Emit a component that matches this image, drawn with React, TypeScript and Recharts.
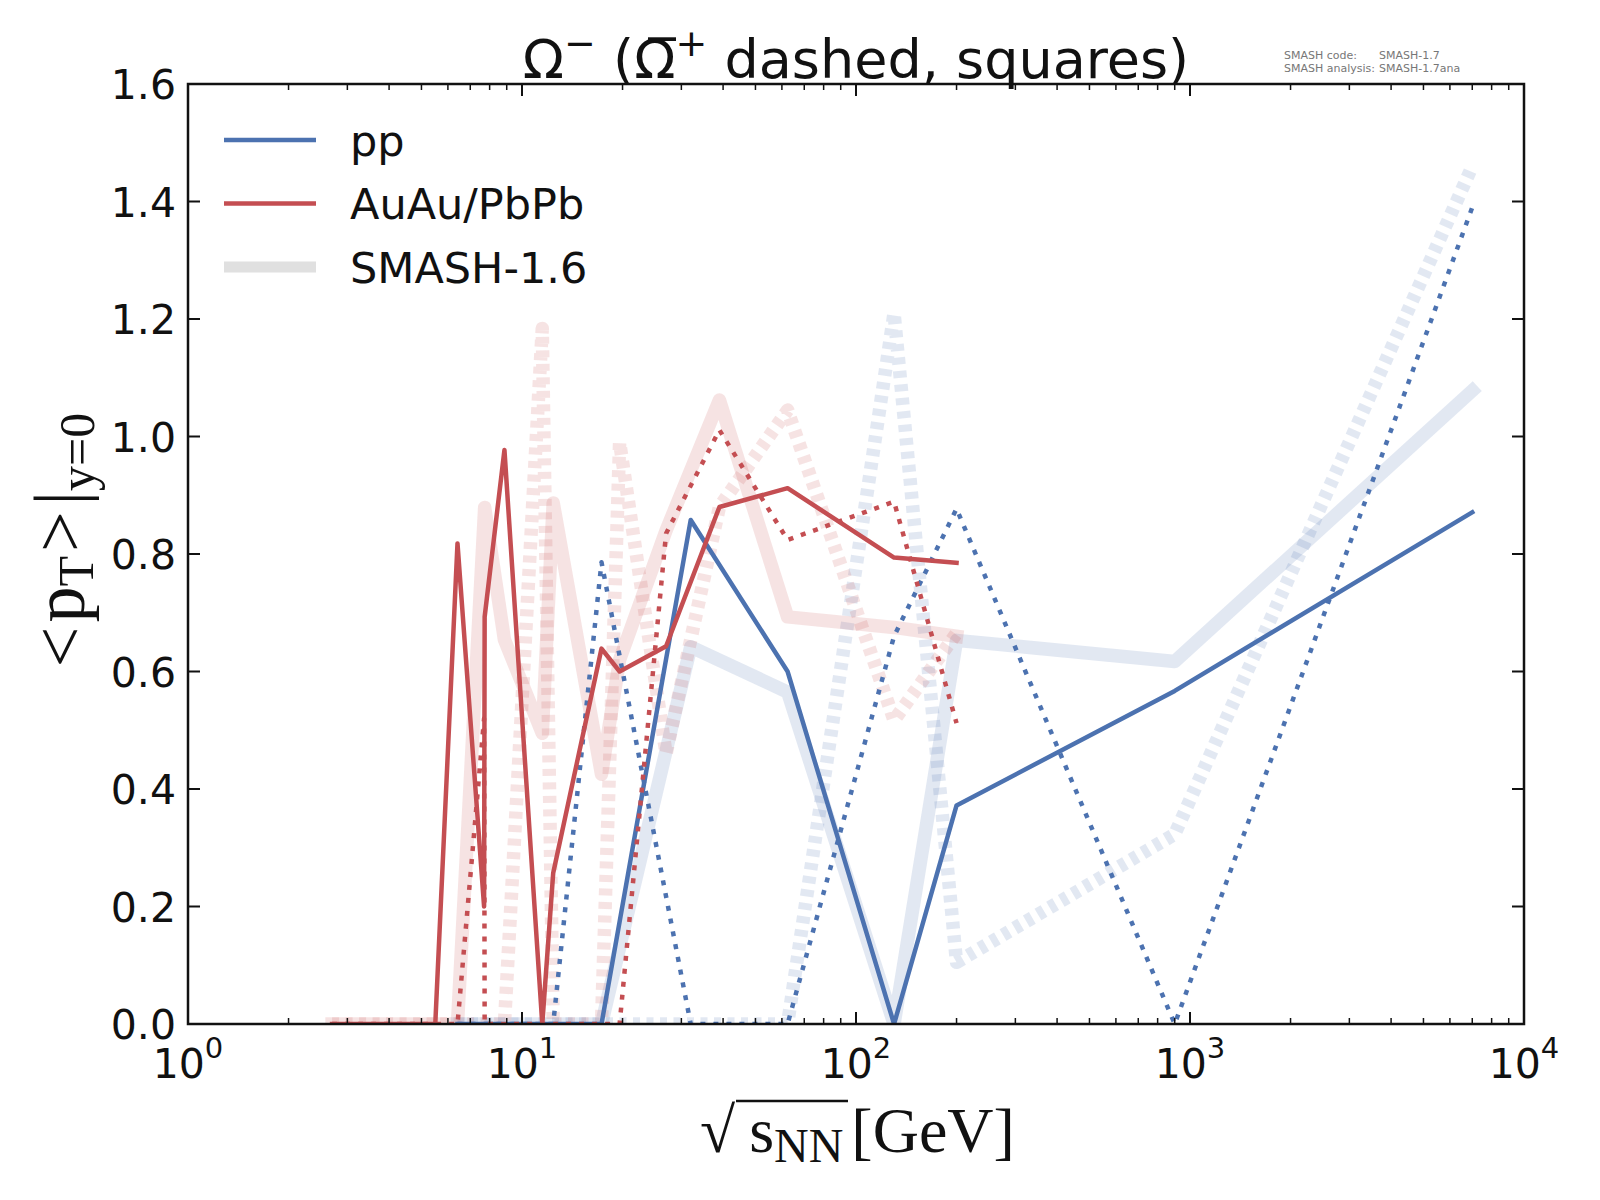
import React from 'react';
import { LineChart, Line, XAxis, YAxis } from 'recharts';

// collision energies (GeV) at which the curves are sampled
const AA_ENERGY = [2.7, 3.32, 3.84, 4.3, 4.86, 5.5, 6.41, 7.7, 7.73, 8.86, 11.5, 12.4, 17.3, 19.6, 27, 39, 62.4, 130, 200];
const PP_ENERGY = [6.41, 7.73, 8.86, 12.4, 17.3, 32, 62.4, 130, 200, 900, 7000];

// <pT> at y=0, current version
const AA_OMEGA = [0, 0, 0, 0, 0, 0, 0.818, 0.2, 0.693, 0.977, 0, 0.257, 0.639, 0.6, 0.643, 0.88, 0.912, 0.794, 0.785];
const AA_ANTI = [0, 0, 0, 0, 0, 0, 0, 0.52, 0, 0, 0, 0, 0, 0, 0.835, 1.011, 0.824, 0.889, 0.512];
const PP_OMEGA = [0, 0, 0, 0, 0, 0.858, 0.6, 0, 0.372, 0.567, 0.871];
const PP_ANTI = [0, 0, 0, 0, 0.786, 0, 0, 0.66, 0.877, 0, 1.39];

// SMASH-1.6 reference curves
const AA_OMEGA_16 = [0, 0, 0, 0, 0, 0, 0, 0.86, 0.879, 0.654, 0.495, 0.887, 0.425, 0.62, 0.84, 1.062, 0.693, 0.675, 0.66];
const AA_ANTI_16 = [0, 0, 0, 0, 0, 0, 0, 0, 0, 0, 1.184, 0, 0, 0.99, 0.46, 0.88, 1.045, 0.517, 0.665];
const PP_OMEGA_16 = [0, 0, 0, 0, 0, 0.642, 0.565, 0, 0.653, 0.617, 1.078];
const PP_ANTI_16 = [0, 0, 0, 0, 0, 0, 0, 1.21, 0.105, 0.323, 1.46];

const X_TICKS = [
  1, 2, 3, 4, 5, 6, 7, 8, 9,
  10, 20, 30, 40, 50, 60, 70, 80, 90,
  100, 200, 300, 400, 500, 600, 700, 800, 900,
  1000, 2000, 3000, 4000, 5000, 6000, 7000, 8000, 9000,
  10000,
];
const Y_TICKS = [0, 0.2, 0.4, 0.6, 0.8, 1.0, 1.2, 1.4, 1.6];

const LEGEND = [
  { label: 'pp', color: '#4C72B0', width: 4.5 },
  { label: 'AuAu/PbPb', color: '#C44E52', width: 4.5 },
  { label: 'SMASH-1.6', color: '#E0E0E0', width: 11 },
];

const BLUE = '#4C72B0';
const RED = '#C44E52';
const PLOT = { left: 188, top: 84, right: 1524, bottom: 1024 };
const SANS = 'DejaVu Sans';
const SERIF = 'Liberation Serif';

const zip = (xs: number[], ys: number[]) => xs.map((x, i) => ({ x, y: ys[i] }));

const isDecade = (v: number) => Math.abs(Math.log10(v) - Math.round(Math.log10(v))) < 1e-9;

const BottomTick = (props: any) => {
  const { x, payload } = props;
  const major = isDecade(payload.value);
  return (
    <g>
      <line x1={x} x2={x} y1={PLOT.bottom} y2={PLOT.bottom - (major ? 12 : 6)} stroke="#111" strokeWidth={major ? 2 : 1.5} />
      {major && (
        <text x={x} y={1078} textAnchor="middle" fontFamily={SANS} fontSize={41} fill="#111">
          10<tspan fontSize={29} dy={-20}>{Math.round(Math.log10(payload.value))}</tspan>
        </text>
      )}
    </g>
  );
};

const TopTick = (props: any) => {
  const { x, payload } = props;
  const major = isDecade(payload.value);
  return (
    <line x1={x} x2={x} y1={PLOT.top} y2={PLOT.top + (major ? 12 : 6)} stroke="#111" strokeWidth={major ? 2 : 1.5} />
  );
};

const LeftTick = (props: any) => {
  const { y, payload } = props;
  return (
    <g>
      <line x1={PLOT.left} x2={PLOT.left + 12} y1={y} y2={y} stroke="#111" strokeWidth={2} />
      <text x={176} y={y + 15} textAnchor="end" fontFamily={SANS} fontSize={41} fill="#111">
        {payload.value.toFixed(1)}
      </text>
    </g>
  );
};

const RightTick = (props: any) => {
  const { y } = props;
  return <line x1={PLOT.right} x2={PLOT.right - 12} y1={y} y2={y} stroke="#111" strokeWidth={2} />;
};

const series = [
  { key: 'pp16', data: zip(PP_ENERGY, PP_OMEGA_16), color: BLUE, light: true, dotted: false },
  { key: 'ppanti16', data: zip(PP_ENERGY, PP_ANTI_16), color: BLUE, light: true, dotted: true },
  { key: 'aa16', data: zip(AA_ENERGY, AA_OMEGA_16), color: RED, light: true, dotted: false },
  { key: 'aaanti16', data: zip(AA_ENERGY, AA_ANTI_16), color: RED, light: true, dotted: true },
  { key: 'pp', data: zip(PP_ENERGY, PP_OMEGA), color: BLUE, light: false, dotted: false },
  { key: 'ppanti', data: zip(PP_ENERGY, PP_ANTI), color: BLUE, light: false, dotted: true },
  { key: 'aa', data: zip(AA_ENERGY, AA_OMEGA), color: RED, light: false, dotted: false },
  { key: 'aaanti', data: zip(AA_ENERGY, AA_ANTI), color: RED, light: false, dotted: true },
];

export default function App() {
  return (
    <div style={{ position: 'absolute', left: 0, top: 0, width: 1600, height: 1200, background: '#fff' }}>
      <LineChart
        width={1600}
        height={1200}
        margin={{ top: PLOT.top - 1, right: 1600 - PLOT.right - 1, bottom: 1200 - PLOT.bottom - 1, left: PLOT.left - 1 }}
      >
        <XAxis
          dataKey="x"
          type="number"
          scale="log"
          domain={[1, 10000]}
          allowDataOverflow
          ticks={X_TICKS}
          interval={0}
          height={1}
          axisLine={false}
          tickLine={false}
          tick={<BottomTick />}
        />
        <XAxis
          xAxisId="top"
          orientation="top"
          dataKey="x"
          type="number"
          scale="log"
          domain={[1, 10000]}
          allowDataOverflow
          ticks={X_TICKS}
          interval={0}
          height={1}
          axisLine={false}
          tickLine={false}
          tick={<TopTick />}
        />
        <YAxis
          type="number"
          domain={[0, 1.6]}
          allowDataOverflow
          ticks={Y_TICKS}
          interval={0}
          width={1}
          axisLine={false}
          tickLine={false}
          tick={<LeftTick />}
        />
        <YAxis
          yAxisId="right"
          orientation="right"
          type="number"
          domain={[0, 1.6]}
          allowDataOverflow
          ticks={Y_TICKS}
          interval={0}
          width={1}
          axisLine={false}
          tickLine={false}
          tick={<RightTick />}
        />
        {series.map((s) => (
          <Line
            key={s.key}
            data={s.data}
            dataKey="y"
            type="linear"
            stroke={s.color}
            strokeOpacity={s.light ? 0.16 : 1}
            strokeWidth={s.light ? 13.5 : 4.5}
            strokeDasharray={s.dotted ? (s.light ? '7 6.5' : '5 8') : undefined}
            strokeLinejoin="round"
            strokeLinecap={s.dotted ? 'butt' : 'square'}
            dot={false}
            activeDot={false}
            isAnimationActive={false}
          />
        ))}
      </LineChart>

      <svg
        width={1600}
        height={1200}
        style={{ position: 'absolute', left: 0, top: 0, pointerEvents: 'none' }}
      >
        <rect
          x={PLOT.left}
          y={PLOT.top}
          width={PLOT.right - PLOT.left}
          height={PLOT.bottom - PLOT.top}
          fill="none"
          stroke="#111"
          strokeWidth={2.5}
        />

        <text x={856} y={78} textAnchor="middle" fontFamily={SANS} fontSize={54} fill="#111">
          Ω<tspan fontSize={38} dy={-22}>−</tspan>
          <tspan dy={22}> (Ω&#x305;</tspan>
          <tspan fontSize={38} dy={-22}>+</tspan>
          <tspan dy={22}> dashed, squares)</tspan>
        </text>

        <g fontFamily={SANS} fontSize={11} fill="#777">
          <text x={1284} y={59}>SMASH code:</text>
          <text x={1379} y={59}>SMASH-1.7</text>
          <text x={1284} y={72}>SMASH analysis:</text>
          <text x={1379} y={72}>SMASH-1.7ana</text>
        </g>

        {LEGEND.map((item, i) => {
          const y = 140 + i * 63.5;
          return (
            <g key={item.label}>
              <line x1={224} x2={316} y1={y} y2={y} stroke={item.color} strokeWidth={item.width} />
              <text x={350} y={y + 15.5} fontFamily={SANS} fontSize={43} fill="#111">
                {item.label}
              </text>
            </g>
          );
        })}

        <text x={700} y={1152} fontFamily={SERIF} fontSize={64} fill="#111">
          √<tspan dx={14}>s</tspan>
          <tspan fontSize={48} dy={10}>NN</tspan>
          <tspan dx={8} dy={-10}>[GeV]</tspan>
        </text>
        <line x1={736} x2={848} y1={1101} y2={1101} stroke="#111" strokeWidth={2.5} />

        <text
          x={84}
          y={540}
          transform="rotate(-90 84 540)"
          textAnchor="middle"
          fontFamily={SERIF}
          fontSize={72}
          fill="#111"
        >
          &lt;<tspan dx={4}>p</tspan>
          <tspan fontSize={50} dy={9}>T</tspan>
          <tspan dx={4} dy={-9}>&gt;</tspan>
          <tspan dx={6}>|</tspan>
          <tspan fontSize={50} dy={10}>y=0</tspan>
        </text>
      </svg>
    </div>
  );
}
